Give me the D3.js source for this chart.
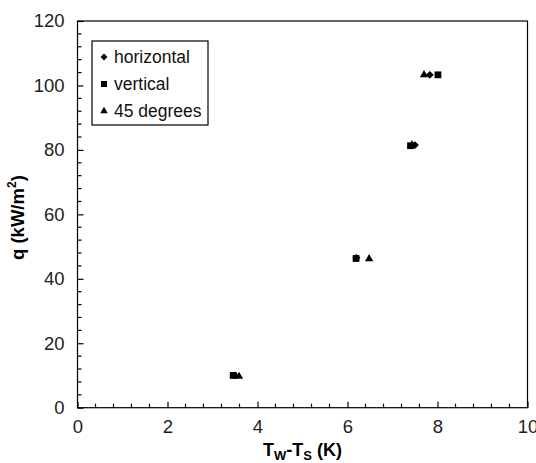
<!DOCTYPE html>
<html>
<head>
<meta charset="utf-8">
<script src="https://cdn.jsdelivr.net/npm/d3@7"></script>
<style>
  body { margin: 0; background: #fff; }
  svg { display: block; font-family: "Liberation Sans", Arial, sans-serif; }
</style>
</head>
<body>
<div id="chart"></div>
<script>
// Data
const seriesNames = ["horizontal", "vertical", "45 degrees"];
const horizontalX = [3.5, 6.2, 7.5, 7.83];
const horizontalY = [10, 46.5, 81.5, 103.3];
const verticalX = [3.46, 6.19, 7.4, 8.01];
const verticalY = [10, 46.3, 81.3, 103.3];
const degrees45X = [3.59, 6.48, 7.43, 7.7];
const degrees45Y = [9.7, 46.2, 81.6, 103.3];
const xTicks = [0, 2, 4, 6, 8, 10];
const yTicks = [0, 20, 40, 60, 80, 100, 120];

// Dimensions
const margin = { top: 21, right: 8.5, bottom: 55.3, left: 77.5 },
    width = 536 - margin.left - margin.right,
    height = 463 - margin.top - margin.bottom;

const svg = d3.select("#chart")
    .append("svg")
    .attr("width", 536)
    .attr("height", 463)
    .append("g")
    .attr("transform", `translate(${margin.left},${margin.top})`);

// Scales
const x = d3.scaleLinear().domain([0, 10]).range([0, width]);
const y = d3.scaleLinear().domain([0, 120]).range([height, 0]);

// Frame
svg.append("rect")
    .attr("width", width)
    .attr("height", height)
    .attr("fill", "none")
    .attr("stroke", "#000")
    .attr("stroke-width", 1.2);

// Minor ticks (inward)
const xMinor = d3.range(0, 10.001, 0.4).filter(v => !xTicks.includes(Math.round(v * 10) / 10));
const yMinor = d3.range(0, 120.001, 4).filter(v => v % 20 !== 0);

svg.append("g")
    .selectAll("line")
    .data(xMinor)
    .join("line")
    .attr("x1", d => x(d)).attr("x2", d => x(d))
    .attr("y1", height).attr("y2", height - 4)
    .attr("stroke", "#000").attr("stroke-width", 1.2);

svg.append("g")
    .selectAll("line")
    .data(yMinor)
    .join("line")
    .attr("x1", 0).attr("x2", 4)
    .attr("y1", d => y(d)).attr("y2", d => y(d))
    .attr("stroke", "#000").attr("stroke-width", 1.2);

// X-axis
const xAxis = svg.append("g")
    .attr("transform", `translate(0,${height})`)
    .call(d3.axisBottom(x).tickValues(xTicks).tickSize(-6).tickPadding(12).tickFormat(d3.format("d")));
xAxis.select(".domain").remove();
xAxis.selectAll("line").attr("stroke-width", 1.2);
xAxis.selectAll("text")
    .style("font-size", "18.5px")
    .attr("fill", "#222");

// Y-axis
const yAxis = svg.append("g")
    .call(d3.axisLeft(y).tickValues(yTicks).tickSize(-6).tickPadding(13).tickFormat(d3.format("d")));
yAxis.select(".domain").remove();
yAxis.selectAll("line").attr("stroke-width", 1.2);
yAxis.selectAll("text")
    .style("font-size", "18.5px")
    .attr("fill", "#222");

// Axis titles
const xTitle = svg.append("text")
    .attr("x", x(5))
    .attr("y", height + 48)
    .attr("text-anchor", "middle")
    .style("font-size", "18px")
    .style("font-weight", "bold");
xTitle.append("tspan").text("T");
xTitle.append("tspan").text("W").style("font-size", "13px").attr("dy", 4);
xTitle.append("tspan").text("-T").attr("dy", -4);
xTitle.append("tspan").text("S").style("font-size", "13px").attr("dy", 4);
xTitle.append("tspan").text(" (K)").attr("dy", -4);

const yTitle = svg.append("text")
    .attr("transform", `translate(${-margin.left + 24},${y(59)}) rotate(-90)`)
    .attr("text-anchor", "middle")
    .style("font-size", "18.5px")
    .style("font-weight", "bold");
yTitle.append("tspan").text("q (kW/m");
yTitle.append("tspan").text("2").style("font-size", "12px").attr("dy", -8);
yTitle.append("tspan").text(")").attr("dy", 8);

// Markers
const shapes = {
    "horizontal": { type: d3.symbolSquare, size: 30, rotate: 45 },
    "vertical": { type: d3.symbolSquare, size: 46, rotate: 0 },
    "45 degrees": { type: d3.symbolTriangle, size: 30, rotate: 0 }
};

const series = [
    { name: "horizontal", xs: horizontalX, ys: horizontalY },
    { name: "vertical", xs: verticalX, ys: verticalY },
    { name: "45 degrees", xs: degrees45X, ys: degrees45Y }
];

series.forEach(s => {
    const sh = shapes[s.name];
    svg.append("g")
        .selectAll("path")
        .data(s.xs.map((v, i) => ({ x: v, y: s.ys[i] })))
        .join("path")
        .attr("d", d3.symbol().type(sh.type).size(sh.size))
        .attr("transform", d => `translate(${x(d.x)},${y(d.y)}) rotate(${sh.rotate})`)
        .attr("fill", "#000");
});

// Legend
const legend = svg.append("g").attr("transform", "translate(14.5,20)");
legend.append("rect")
    .attr("width", 116)
    .attr("height", 84)
    .attr("fill", "#fff")
    .attr("stroke", "#000")
    .attr("stroke-width", 1.2);

seriesNames.forEach((name, i) => {
    const sh = shapes[name];
    const row = legend.append("g").attr("transform", `translate(12,${16 + i * 27})`);
    row.append("path")
        .attr("d", d3.symbol().type(sh.type).size(sh.size * 0.8))
        .attr("transform", `rotate(${sh.rotate})`)
        .attr("fill", "#000");
    row.append("text")
        .attr("x", 10)
        .attr("dy", "0.35em")
        .style("font-size", "17.5px")
        .attr("fill", "#111")
        .text(name);
});
</script>
</body>
</html>
